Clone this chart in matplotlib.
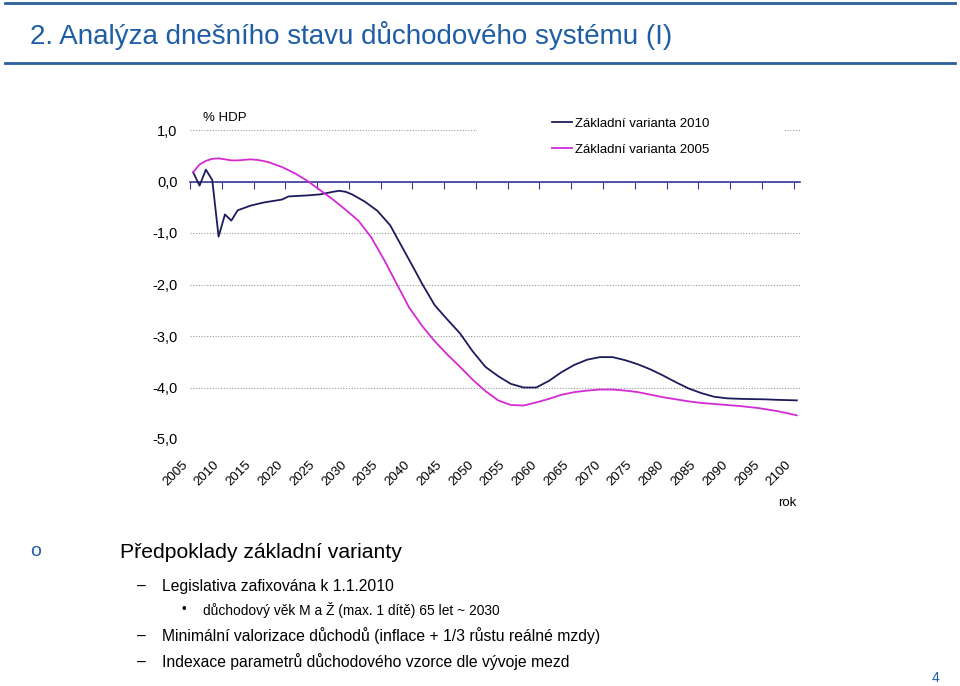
import matplotlib
matplotlib.use("Agg")
import matplotlib.pyplot as plt
from matplotlib.patches import Rectangle
import numpy as np

plt.rcParams['font.family'] = ['Liberation Sans', 'DejaVu Sans']

# data (% HDP)
roky_2010 = [2005, 2006, 2007, 2008, 2009, 2010, 2011, 2012, 2014, 2016, 2018, 2019,
             2020, 2023, 2025, 2027, 2028, 2029, 2030, 2032, 2034, 2036, 2038, 2040,
             2041, 2043, 2045, 2047, 2049, 2051, 2053, 2055, 2057, 2059, 2061, 2063,
             2065, 2067, 2069, 2071, 2073, 2075, 2077, 2079, 2081, 2083, 2085, 2087,
             2089, 2091, 2095, 2097, 2100]
var_2010 = [0.18, -0.08, 0.23, 0.03, -1.07, -0.64, -0.76, -0.56, -0.47, -0.41, -0.37, -0.35,
            -0.29, -0.27, -0.25, -0.20, -0.18, -0.20, -0.25, -0.39, -0.57, -0.85, -1.30, -1.75,
            -1.98, -2.40, -2.68, -2.95, -3.30, -3.60, -3.78, -3.93, -4.00, -4.00, -3.87, -3.70,
            -3.56, -3.46, -3.41, -3.41, -3.47, -3.55, -3.65, -3.77, -3.90, -4.02, -4.11, -4.18,
            -4.21, -4.22, -4.23, -4.24, -4.25]

roky_2005 = [2005, 2006, 2007, 2008, 2009, 2010, 2011, 2012, 2014, 2015, 2016, 2017,
             2019, 2021, 2023, 2025, 2027, 2029, 2031, 2033, 2035, 2037, 2039, 2041,
             2043, 2045, 2047, 2049, 2051, 2053, 2055, 2057, 2059, 2061, 2063, 2065,
             2067, 2069, 2071, 2073, 2075, 2077, 2079, 2081, 2083, 2085, 2088, 2091,
             2094, 2097, 2100]
var_2005 = [0.18, 0.33, 0.40, 0.44, 0.45, 0.43, 0.41, 0.41, 0.43, 0.42, 0.40, 0.37,
            0.28, 0.16, 0.01, -0.17, -0.35, -0.55, -0.76, -1.08, -1.51, -1.98, -2.45, -2.80,
            -3.10, -3.36, -3.60, -3.85, -4.07, -4.25, -4.34, -4.35, -4.29, -4.22, -4.14, -4.09,
            -4.06, -4.04, -4.04, -4.06, -4.09, -4.14, -4.19, -4.23, -4.27, -4.30, -4.33, -4.36,
            -4.40, -4.46, -4.54]

popisky_x = list(range(2005, 2101, 5))
hodnoty_y = [1, 0, -1, -2, -3, -4, -5]
popisky_y = ['1,0', '0,0', '-1,0', '-2,0', '-3,0', '-4,0', '-5,0']

modra = '#1f5ea6'

fig = plt.figure(figsize=(9.6, 6.86), dpi=100)

# hlavicka slidu
fig.add_artist(plt.Line2D([5/960, 955/960], [1-3/686, 1-3/686], color='#2a6099', lw=2))
fig.add_artist(plt.Line2D([5/960, 955/960], [1-63/686, 1-63/686], color='#2a6099', lw=2))
fig.text(30/960, 1-35/686, '2. Analýza dnešního stavu důchodového systému (I)',
         color=modra, fontsize=20, va='center', ha='left')

# graf
ax = fig.add_axes([190/960, 1-439/686, 610/960, 309/686])
ax.plot(roky_2010, var_2010, color='#1c1c5c', lw=1.3, label='Základní varianta 2010', zorder=3)
ax.plot(roky_2005, var_2005, color='#d42ad4', lw=1.3, label='Základní varianta 2005', zorder=3)

ax.set_xlim(2004.5, 2100.5)
ax.set_ylim(-5, 1)
ax.set_yticks(hodnoty_y)
ax.set_yticklabels(popisky_y, fontsize=10.5)
ax.tick_params(axis='y', length=0, pad=9)
ax.yaxis.grid(True, color='#9a9a9a', linestyle=(0, (1, 1.5)), lw=0.8)
ax.set_axisbelow(True)

for s in ['left', 'right', 'top']:
    ax.spines[s].set_visible(False)
ax.spines['bottom'].set_position(('data', 0))
ax.spines['bottom'].set_color('#3a3a9a')
ax.spines['bottom'].set_linewidth(1.2)
ax.set_xticks([r - 0.5 for r in popisky_x])
ax.tick_params(axis='x', direction='out', length=5, color='#3a3a9a', labelbottom=False)

sec = ax.secondary_xaxis(0)
sec.set_xticks([r - 0.5 for r in popisky_x])
sec.set_xticklabels([str(r) for r in popisky_x], rotation=45, ha='right', va='top',
                    fontsize=9.5)
sec.tick_params(length=0, pad=14)
sec.spines['bottom'].set_visible(False)

ax.add_patch(Rectangle(((477-190)/610, (439-160)/309), 306/610, 50/309,
                       transform=ax.transAxes, color='white', clip_on=False, zorder=1))
ax.legend(loc='upper left', bbox_to_anchor=((547-190)/610, (439-112)/309), frameon=False,
          fontsize=9.5, handlelength=1.5, handletextpad=0.2, labelspacing=1.05,
          borderaxespad=0)

ax.text((203-190)/610, (439-118)/309, '% HDP', transform=ax.transAxes, fontsize=9.5,
        va='center', ha='left')
fig.text(787/960, 1-503/686, 'rok', fontsize=9.5, ha='center', va='center')

# text pod grafem
fig.text(30/960, 1-552/686, 'o', color=modra, fontsize=14, va='center')
fig.text(120/960, 1-552/686, 'Předpoklady základní varianty', fontsize=15.2, va='center')
for y, t in [(586, 'Legislativa zafixována k 1.1.2010'),
             (636, 'Minimální valorizace důchodů (inflace + 1/3 růstu reálné mzdy)'),
             (662, 'Indexace parametrů důchodového vzorce dle vývoje mezd')]:
    fig.text(137/960, 1-y/686, '–', fontsize=11.3, va='center')
    fig.text(162/960, 1-y/686, t, fontsize=11.3, va='center')
fig.text(181/960, 1-610/686, '•', fontsize=9.5, va='center')
fig.text(203/960, 1-610/686, 'důchodový věk M a Ž (max. 1 dítě) 65 let ~ 2030',
         fontsize=9.9, va='center')
fig.text(936/960, 1-678/686, '4', color=modra, fontsize=10, ha='center', va='center')

fig.savefig('out.png', dpi=100)
